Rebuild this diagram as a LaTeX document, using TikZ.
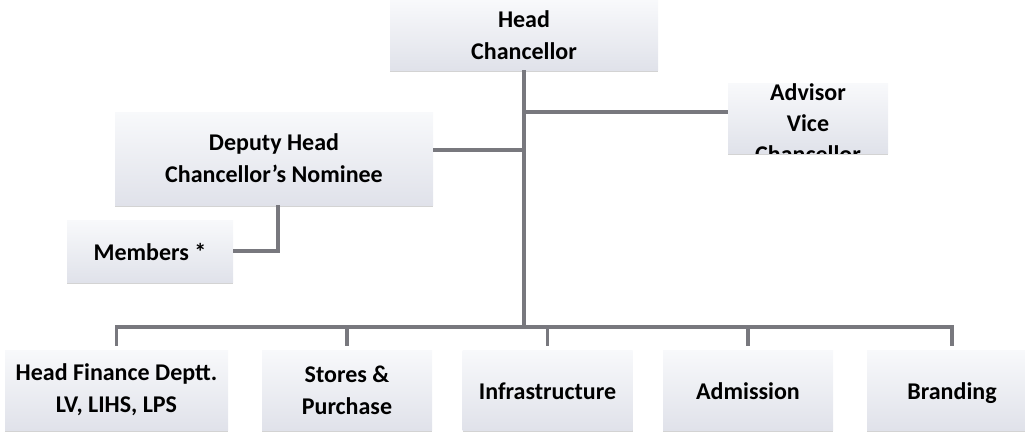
\documentclass[tikz,border=0pt]{standalone}
\usepackage{fontspec}
\setmainfont{Carlito}
\usetikzlibrary{shadows}

\definecolor{boxtop}{RGB}{248,249,251}
\definecolor{boxbottom}{RGB}{224,226,234}
\definecolor{linegray}{RGB}{120,120,126}

\begin{document}
\begin{tikzpicture}[x=1pt, y=-1pt,
    box/.style={rectangle, top color=boxtop, bottom color=boxbottom, draw=none,
        drop shadow={shadow xshift=0pt, shadow yshift=-2pt, opacity=.35},
        align=center, inner sep=0pt, font=\bfseries\fontsize{24}{32}\selectfont},
    oneline/.style={text height=18pt, text depth=0pt},
    link/.style={draw=linegray, line width=3.2pt}]

    \useasboundingbox (0,0) rectangle (1025,437);

    % top part
    \node[box, minimum width=268pt, minimum height=70pt] (head) at (524,35) {Head\\Chancellor};
    \node[box, minimum width=160pt, minimum height=70pt,
        path picture={\node[align=center, font=\bfseries\fontsize{24}{31}\selectfont]
            at ([yshift=-5pt]path picture bounding box.center) {Advisor\\Vice\\Chancellor};}]
        (advisor) at (808,118) {};
    \node[box, minimum width=318pt, minimum height=93pt] (deputy) at (274,158.5) {Deputy Head\\Chancellor's Nominee};
    \node[box, oneline, minimum width=166pt, minimum height=62pt] (members) at (150,251) {Members *};

    % bottom row
    \node[box, minimum width=223pt, minimum height=80pt] (finance) at (116.5,390) {Head Finance Deptt.\\LV, LIHS, LPS};
    \node[box, minimum width=170pt, minimum height=80pt] (stores) at (347,390) {Stores \&\\Purchase};
    \node[box, oneline, minimum width=170pt, minimum height=80pt] (infra) at (547.5,390) {Infrastructure};
    \node[box, oneline, minimum width=170pt, minimum height=80pt] (admission) at (748,390) {Admission};
    \node[box, oneline, minimum width=170pt, minimum height=80pt] (branding) at (952,390) {Branding};

    \coordinate (bus) at (524,327);
    \coordinate (adv link) at ([yshift=6pt]advisor.west);
    \coordinate (dep link) at ([yshift=8.5pt]deputy.east);

    \draw[link] (head.south) -- (head.south |- bus);
    \draw[link] (adv link) -- (adv link -| head.south);
    \draw[link] (dep link) -- (dep link -| head.south);
    \draw[link] ([xshift=4pt]deputy.south) |- (members.east);

    \draw[link] ([yshift=4pt]finance.north) -- (finance.north |- bus) -- (branding.north |- bus) -- ([yshift=4pt]branding.north);
    \foreach \n in {stores,infra,admission}
        \draw[link] (\n.north |- bus) -- ([yshift=4pt]\n.north);
\end{tikzpicture}
\end{document}
